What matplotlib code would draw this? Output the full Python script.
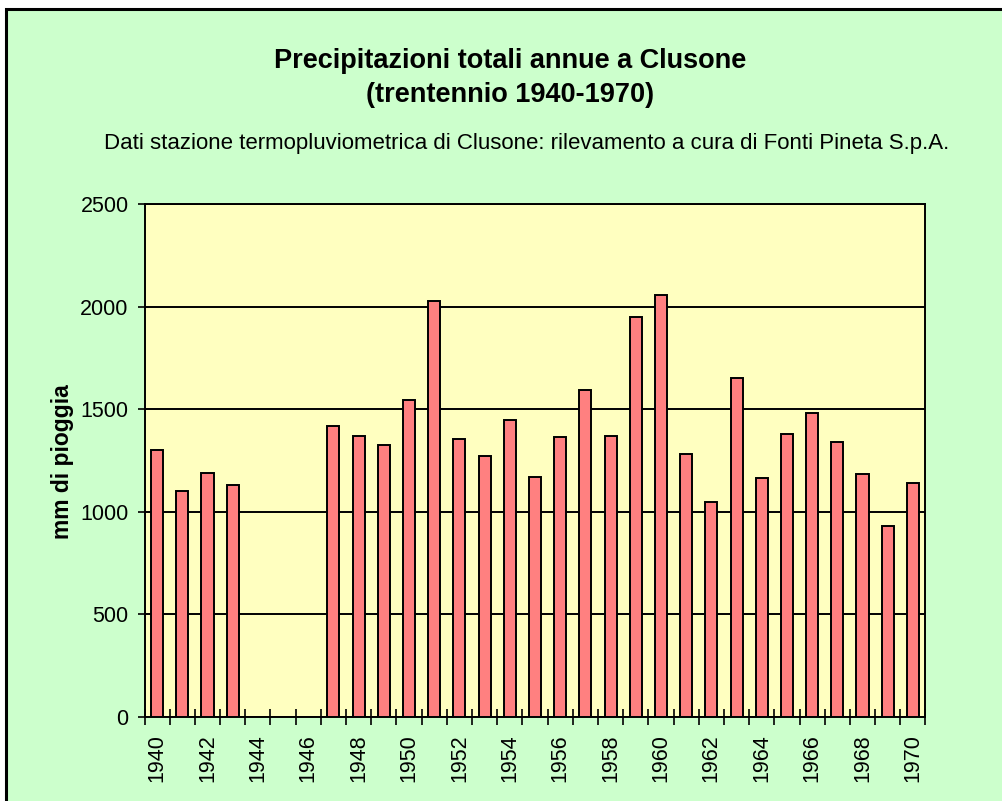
import numpy as np
import matplotlib
matplotlib.use("Agg")
import matplotlib.pyplot as plt
from matplotlib.patches import Rectangle

years = list(range(1940, 1971))
rain_mm = [1300, 1100, 1190, 1130, np.nan, np.nan, np.nan, 1420, 1370, 1325,
           1545, 2025, 1355, 1270, 1445, 1170, 1365, 1595, 1370, 1950,
           2055, 1280, 1050, 1650, 1165, 1380, 1480, 1340, 1185, 930, 1140]
y_ticks = [0, 500, 1000, 1500, 2000, 2500]

title = "Precipitazioni totali annue a Clusone\n(trentennio 1940-1970)"
subtitle = "Dati stazione termopluviometrica di Clusone: rilevamento a cura di Fonti Pineta S.p.A."
ylabel = "mm di pioggia"

plt.rcParams['font.family'] = ['Liberation Sans', 'DejaVu Sans']

W, H = 1002, 801
fig = plt.figure(figsize=(W / 100, H / 100), dpi=100)
fig.patch.set_facecolor('white')

# chart area background with frame (only top/left visible)
bg = Rectangle((6 / W, -0.1), 1.1, 1.1 - 9 / H, transform=fig.transFigure,
               facecolor='#CCFFCC', edgecolor='black', linewidth=2.2, zorder=-5)
fig.patches.append(bg)

left, right, top, bottom = 144.5, 925.5, 204, 717
ax = fig.add_axes([left / W, 1 - bottom / H, (right - left) / W, (bottom - top) / H])
ax.set_zorder(5)
ax.set_facecolor('#FFFFC0')

x = np.arange(len(years))
ax.bar(x, rain_mm, width=0.48, color='#FF8080', edgecolor='black', linewidth=1.4, zorder=3)

ax.set_ylim(0, 2500)
ax.set_xlim(-0.5, len(years) - 0.5)
ax.set_yticks(y_ticks)
ax.set_yticklabels([str(v) for v in y_ticks], fontsize=15.5, color='black')
ax.yaxis.grid(True, color='black', linewidth=1.4, zorder=1)
ax.set_axisbelow(True)
ax.tick_params(axis='y', direction='out', length=5, width=1.2, pad=6.5)

# x: major ticks at category boundaries, labels at even years via minor ticks
ax.set_xticks(np.arange(-0.5, len(years), 1.0))
ax.set_xticklabels([])
ax.tick_params(axis='x', which='major', direction='inout', length=12, width=1.2)
lab_pos = [i for i, yv in enumerate(years) if yv % 2 == 0]
ax.set_xticks(lab_pos, minor=True)
ax.set_xticklabels([str(years[i]) for i in lab_pos], minor=True, rotation=90,
                   fontsize=15.5, va='top', ha='center')
ax.tick_params(axis='x', which='minor', length=0, pad=12.5)

for s in ax.spines.values():
    s.set_linewidth(1.4)
    s.set_color('black')

fig.text(510 / W, 1 - 78 / H, title, ha='center', va='center', fontsize=19.5,
         fontweight='bold', linespacing=1.45)
fig.text(527 / W, 1 - 143 / H, subtitle, ha='center', va='center', fontsize=16)
fig.text(62 / W, 1 - 462 / H, ylabel, ha='center', va='center', rotation=90,
         fontsize=16.5, fontweight='bold')

fig.savefig('out.png', dpi=100, facecolor=fig.get_facecolor())
